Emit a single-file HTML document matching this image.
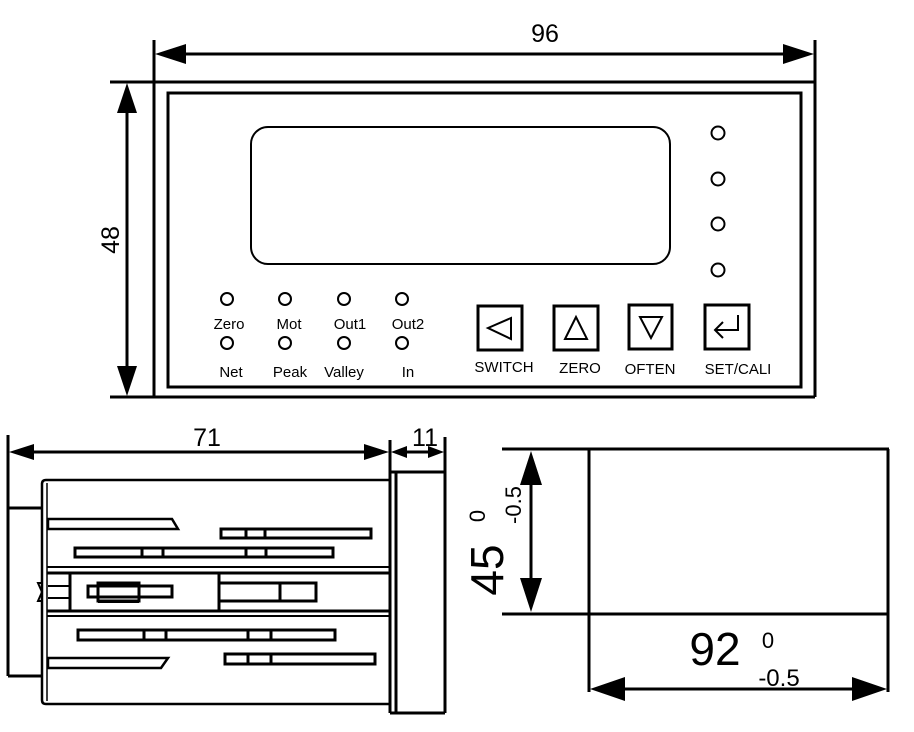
<!DOCTYPE html>
<html><head><meta charset="utf-8"><style>
html,body{margin:0;padding:0;background:#fff;}
svg{display:block;}
text{font-family:"Liberation Sans",Arial,sans-serif;fill:#000;}
</style></head><body>
<svg width="914" height="732" viewBox="0 0 914 732" xmlns="http://www.w3.org/2000/svg">
<g stroke="#000" fill="none" stroke-width="3">
<line x1="110" y1="82" x2="815" y2="82"/>
<line x1="110" y1="397" x2="815" y2="397"/>
<line x1="154" y1="40" x2="154" y2="397"/>
<line x1="815" y1="40" x2="815" y2="397"/>
<rect x="168" y="93" width="633" height="294" stroke-width="3"/>
<rect x="251" y="127" width="419" height="137" rx="17" stroke-width="2"/>
<line x1="180" y1="54" x2="790" y2="54"/>
<line x1="127" y1="108" x2="127" y2="372"/>
</g>
<g fill="#000">
<polygon points="155,54 186,44 186,64"/>
<polygon points="814,54 783,44 783,64"/>
<polygon points="127,83 117,113 137,113"/>
<polygon points="127,396 117,366 137,366"/>
</g>
<text x="545" y="42" font-size="25" text-anchor="middle">96</text>
<text x="0" y="0" font-size="25" text-anchor="middle" transform="translate(119,240) rotate(-90)">48</text>
<g stroke="#000" fill="none" stroke-width="2">
<circle cx="718" cy="133" r="6.5"/><circle cx="718" cy="179" r="6.5"/>
<circle cx="718" cy="224" r="6.5"/><circle cx="718" cy="270" r="6.5"/>
<circle cx="227" cy="299" r="6"/><circle cx="285" cy="299" r="6"/>
<circle cx="344" cy="299" r="6"/><circle cx="402" cy="299" r="6"/>
<circle cx="227" cy="343" r="6"/><circle cx="285" cy="343" r="6"/>
<circle cx="344" cy="343" r="6"/><circle cx="402" cy="343" r="6"/>
</g>
<g font-size="15" text-anchor="middle">
<text x="229" y="329">Zero</text><text x="289" y="329">Mot</text>
<text x="350" y="329">Out1</text><text x="408" y="329">Out2</text>
<text x="231" y="377">Net</text><text x="290" y="377">Peak</text>
<text x="344" y="377">Valley</text><text x="408" y="377">In</text>
</g>
<g stroke="#000" fill="none" stroke-width="3">
<rect x="478" y="306" width="44" height="44"/>
<rect x="554" y="306" width="44" height="44"/>
<rect x="629" y="305" width="43" height="44"/>
<rect x="705" y="305" width="44" height="44"/>
</g>
<g stroke="#000" fill="none" stroke-width="2">
<polygon points="488,328 511,318 511,339"/>
<polygon points="576,317 565,339 587,339"/>
<polygon points="651,338 640,317 662,317"/>
<polyline points="738,315 738,330 716,330"/>
<polyline points="723,322 715,330 723,338"/>
</g>
<g font-size="15" text-anchor="middle">
<text x="504" y="372">SWITCH</text><text x="580" y="373">ZERO</text>
<text x="650" y="374">OFTEN</text><text x="738" y="374">SET/CALI</text>
</g>
<g stroke="#000" fill="none" stroke-width="3">
<line x1="8" y1="435" x2="8" y2="676"/>
<polyline points="8,508 42,508"/>
<polyline points="8,676 42,676"/>
<line x1="390" y1="440" x2="390" y2="713"/>
<line x1="445" y1="437" x2="445" y2="713"/>
<line x1="396" y1="472" x2="396" y2="713"/>
<line x1="390" y1="472" x2="445" y2="472"/>
<line x1="390" y1="713" x2="445" y2="713"/>
<line x1="30" y1="452" x2="370" y2="452"/>
<line x1="395" y1="452" x2="440" y2="452"/>
<path d="M390,480 L46,480 Q42,480 42,484 L42,700 Q42,704 46,704 L390,704" stroke-width="2.5"/>
<line x1="47" y1="483" x2="47" y2="701" stroke-width="1.5"/>
<polygon points="48,519 172,519 178,529 48,529" stroke-width="2.5"/>
<polygon points="48,658 168,658 161,668 48,668" stroke-width="2.5"/>
<rect x="221" y="529" width="150" height="9"/>
<line x1="246" y1="529" x2="246" y2="538"/><line x1="265" y1="529" x2="265" y2="538"/>
<rect x="75" y="548" width="258" height="9"/>
<line x1="142" y1="548" x2="142" y2="557"/><line x1="163" y1="548" x2="163" y2="557"/>
<line x1="246" y1="548" x2="246" y2="557"/><line x1="266" y1="548" x2="266" y2="557"/>
<line x1="47" y1="567" x2="390" y2="567" stroke-width="2"/>
<line x1="47" y1="573" x2="390" y2="573"/>
<line x1="47" y1="611" x2="390" y2="611"/>
<line x1="47" y1="616" x2="390" y2="616" stroke-width="2"/>
<line x1="70" y1="573" x2="70" y2="611"/>
<line x1="219" y1="573" x2="219" y2="611"/>
<line x1="48" y1="586" x2="70" y2="586" stroke-width="2"/>
<line x1="48" y1="598" x2="70" y2="598" stroke-width="2"/>
<path d="M42,583 L38,583 L42,592 L38,601 L42,601" stroke-width="2"/>
<rect x="88" y="586" width="84" height="11"/>
<rect x="98" y="583" width="41" height="18"/>
<line x1="98" y1="602" x2="139" y2="602" stroke-width="2"/>
<polyline points="219,583 316,583 316,601 219,601"/>
<line x1="280" y1="583" x2="280" y2="601"/>
<rect x="78" y="630" width="257" height="10"/>
<line x1="144" y1="630" x2="144" y2="640"/><line x1="166" y1="630" x2="166" y2="640"/>
<line x1="248" y1="630" x2="248" y2="640"/><line x1="271" y1="630" x2="271" y2="640"/>
<rect x="225" y="654" width="150" height="10"/>
<line x1="248" y1="654" x2="248" y2="664"/><line x1="271" y1="654" x2="271" y2="664"/>
</g>
<g fill="#000">
<polygon points="9,452 34,444 34,460"/>
<polygon points="389,452 364,444 364,460"/>
<polygon points="391,452 407,446 407,458"/>
<polygon points="444,452 428,446 428,458"/>
</g>
<text x="207" y="446" font-size="25" text-anchor="middle">71</text>
<text x="425" y="446" font-size="25" text-anchor="middle">11</text>
<g stroke="#000" fill="none" stroke-width="3">
<line x1="502" y1="449" x2="889" y2="449"/>
<line x1="502" y1="614" x2="889" y2="614"/>
<line x1="589" y1="449" x2="589" y2="692"/>
<line x1="888" y1="449" x2="888" y2="692"/>
<line x1="531" y1="480" x2="531" y2="585"/>
<line x1="620" y1="689" x2="860" y2="689"/>
</g>
<g fill="#000">
<polygon points="531,451 520,485 542,485"/>
<polygon points="531,612 520,578 542,578"/>
<polygon points="590,689 625,677 625,701"/>
<polygon points="887,689 852,677 852,701"/>
</g>
<text x="0" y="0" font-size="46" text-anchor="middle" transform="translate(503,570) rotate(-90)">45</text>
<text x="0" y="0" font-size="22" text-anchor="middle" transform="translate(485,516) rotate(-90)">0</text>
<text x="0" y="0" font-size="22" text-anchor="middle" transform="translate(521,505) rotate(-90)">-0.5</text>
<text x="715" y="665" font-size="46" text-anchor="middle">92</text>
<text x="768" y="648" font-size="22" text-anchor="middle">0</text>
<text x="779" y="686" font-size="24" text-anchor="middle">-0.5</text>
</svg>
</body></html>
